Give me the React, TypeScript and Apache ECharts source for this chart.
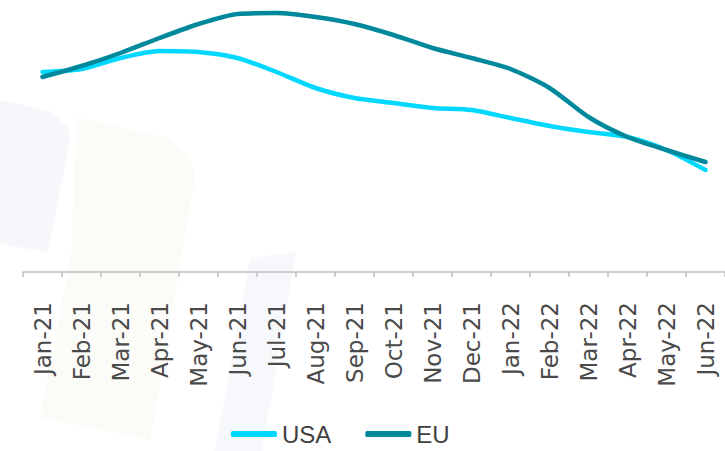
import React, { useEffect, useRef } from "react";
import * as echarts from "echarts";

const categories = [
  "Jan-21", "Feb-21", "Mar-21", "Apr-21", "May-21", "Jun-21",
  "Jul-21", "Aug-21", "Sep-21", "Oct-21", "Nov-21", "Dec-21",
  "Jan-22", "Feb-22", "Mar-22", "Apr-22", "May-22", "Jun-22",
];

const usaValues = [200, 203, 214, 221, 220, 214, 200, 184, 174, 169, 164, 162, 154, 146, 140, 135, 122, 102];
const euValues = [195, 206, 219, 234, 248, 258, 259, 255, 248, 237, 224, 214, 203, 184, 155, 135, 122, 110];

const seriesNames = ["USA", "EU"];

export default function App() {
  const ref = useRef<HTMLDivElement>(null);
  useEffect(() => {
    if (!ref.current) return;
    const chart = echarts.init(ref.current, undefined, { renderer: "svg" });
    chart.setOption({
      animation: false,
      backgroundColor: "#ffffff",
      graphic: [
        {
          type: "polygon",
          silent: true,
          z: -10,
          shape: { points: [[0, 100], [52, 112], [68, 128], [70, 140], [48, 252], [0, 244]] },
          style: { fill: "#f6f7fa" },
        },
        {
          type: "polygon",
          silent: true,
          z: -10,
          shape: { points: [[76, 117], [168, 138], [190, 156], [195, 178], [150, 440], [40, 418], [72, 250]] },
          style: { fill: "#fbfbf7" },
        },
        {
          type: "polygon",
          silent: true,
          z: -10,
          shape: { points: [[250, 258], [296, 252], [262, 451], [215, 451]] },
          style: { fill: "#f7f8fb" },
        },
      ],
      grid: { left: 23, right: -4, top: 0, bottom: 179, containLabel: false },
      legend: {
        data: seriesNames,
        left: 226,
        top: 417,
        itemWidth: 46,
        itemHeight: 6,
        itemGap: 34,
        icon: "roundRect",
        textStyle: { fontSize: 24, lineHeight: 24, color: "#404040", fontFamily: "Liberation Sans" },
      },
      xAxis: {
        type: "category",
        data: categories,
        boundaryGap: true,
        axisLine: { lineStyle: { color: "#bfbfbf", width: 1.5 } },
        axisTick: { show: true, alignWithLabel: false, length: 5, lineStyle: { color: "#bfbfbf", width: 1.5 } },
        axisLabel: {
          rotate: 90,
          interval: 0,
          margin: 30,
          fontSize: 23,
          color: "#4a4a4a",
          fontFamily: "DejaVu Sans",
        },
      },
      yAxis: {
        type: "value",
        min: 0,
        max: 272,
        show: false,
        splitLine: { show: false },
      },
      series: [
        {
          name: "USA",
          type: "line",
          data: usaValues,
          smooth: 0.25,
          symbol: "none",
          color: "#00d8ff",
          lineStyle: { color: "#00d8ff", width: 4.5, cap: "round", join: "round" },
          z: 2,
        },
        {
          name: "EU",
          type: "line",
          data: euValues,
          smooth: 0.25,
          symbol: "none",
          color: "#00899c",
          lineStyle: { color: "#00899c", width: 4.5, cap: "round", join: "round" },
          z: 3,
        },
      ],
    });
    return () => chart.dispose();
  }, []);
  return <div ref={ref} style={{ width: 725, height: 451, position: "absolute", left: 0, top: 0 }} />;
}
